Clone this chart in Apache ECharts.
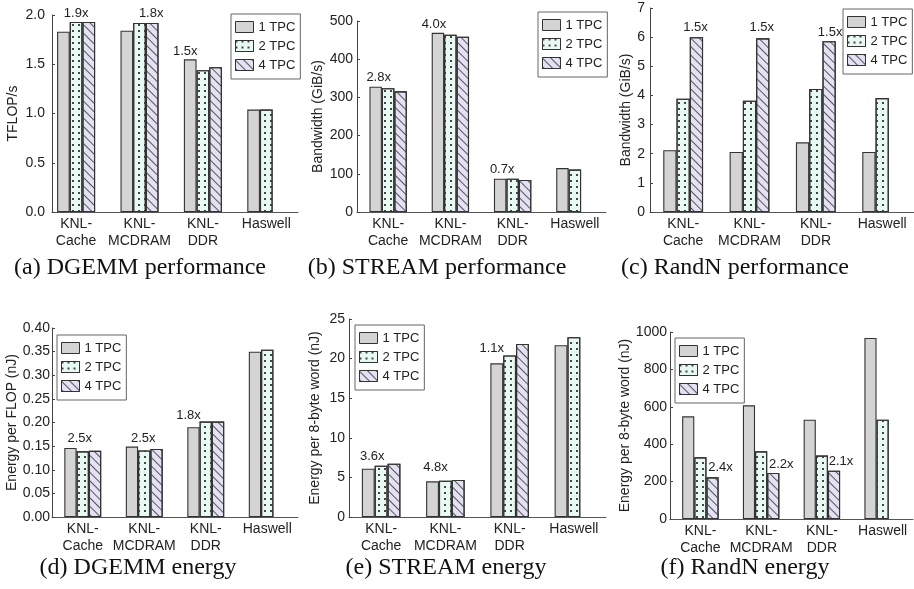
<!DOCTYPE html>
<html><head><meta charset="utf-8">
<script src="https://cdn.jsdelivr.net/npm/echarts@6/dist/echarts.min.js"></script>
<style>html,body{margin:0;padding:0;background:#fff}#c{width:914px;height:589px}</style>
</head><body><div id="c"></div>
<script>
const categories = ['KNL-\nCache', 'KNL-\nMCDRAM', 'KNL-\nDDR', 'Haswell'];
const seriesNames = ['1 TPC', '2 TPC', '4 TPC'];

// (a) DGEMM performance (TFLOP/s)
const dgemmPerf1 = [1.83, 1.84, 1.55, 1.04];
const dgemmPerf2 = [1.93, 1.92, 1.44, 1.04];
const dgemmPerf4 = [1.93, 1.92, 1.47, null];
const dgemmPerfRatio = ['1.9x', '1.8x', '1.5x', null];
// (b) STREAM performance (GiB/s)
const streamPerf1 = [328, 469, 87, 115];
const streamPerf2 = [324, 464, 87, 111];
const streamPerf4 = [316, 459, 84, null];
const streamPerfRatio = ['2.8x', '4.0x', '0.7x', null];
// (c) RandN performance (GiB/s)
const randnPerf1 = [2.12, 2.06, 2.39, 2.06];
const randnPerf2 = [3.89, 3.82, 4.22, 3.91];
const randnPerf4 = [6.0, 5.96, 5.86, null];
const randnPerfRatio = ['1.5x', '1.5x', '1.5x', null];
// (d) DGEMM energy (nJ per FLOP)
const dgemmEnergy1 = [0.146, 0.149, 0.190, 0.350];
const dgemmEnergy2 = [0.139, 0.141, 0.202, 0.354];
const dgemmEnergy4 = [0.140, 0.144, 0.202, null];
const dgemmEnergyRatio = ['2.5x', '2.5x', '1.8x', null];
// (e) STREAM energy (nJ per 8-byte word)
const streamEnergy1 = [6.1, 4.5, 19.4, 21.7];
const streamEnergy2 = [6.48, 4.59, 20.4, 22.7];
const streamEnergy4 = [6.73, 4.67, 21.85, null];
const streamEnergyRatio = ['3.6x', '4.8x', '1.1x', null];
// (f) RandN energy (nJ per 8-byte word)
const randnEnergy1 = [549, 608, 531, 968];
const randnEnergy2 = [330, 362, 339, 531];
const randnEnergy4 = [223, 246, 258, null];
const randnEnergyRatio = ['2.4x', '2.2x', '2.1x', null];

const captions = ['(a) DGEMM performance', '(b) STREAM performance', '(c) RandN performance',
                  '(d) DGEMM energy', '(e) STREAM energy', '(f) RandN energy'];
const yNames = ['TFLOP/s', 'Bandwidth (GiB/s)', 'Bandwidth (GiB/s)',
                'Energy per FLOP (nJ)', 'Energy per 8-byte word (nJ)', 'Energy per 8-byte word (nJ)'];
const yMax = [2, 500, 7, 0.4, 25, 1000];
const yInterval = [0.5, 100, 1, 0.05, 5, 200];
const yDecimals = [1, 0, 0, 2, 0, 0];

const values = [
  [dgemmPerf1, dgemmPerf2, dgemmPerf4],
  [streamPerf1, streamPerf2, streamPerf4],
  [randnPerf1, randnPerf2, randnPerf4],
  [dgemmEnergy1, dgemmEnergy2, dgemmEnergy4],
  [streamEnergy1, streamEnergy2, streamEnergy4],
  [randnEnergy1, randnEnergy2, randnEnergy4]
];
const ratios = [dgemmPerfRatio, streamPerfRatio, randnPerfRatio, dgemmEnergyRatio, streamEnergyRatio, randnEnergyRatio];

// ---- layout / styling (not data) ----
const layout = [
  {grid: {left: 52, top: 15, width: 246, height: 197}, xmin: 0.62, xmax: 4.5, nameGap: 32, labMargin: 7,
   legend: {left: 231, top: 14}, cap: [140, 256],
   anchor: [1, 2, 0], off: [[0, 0], [-1, 0], [-5, 0]], dist: [2, 3, 1]},
  {grid: {left: 357, top: 21, width: 249, height: 191}, xmin: 0.5, xmax: 4.5, nameGap: 32, labMargin: 4,
   legend: {left: 538, top: 12}, cap: [437, 256],
   anchor: [0, 0, 0], off: [[3, 0], [-4, 0], [2, 0]], dist: [2.5, 1.5, 2.5]},
  {grid: {left: 650, top: 8, width: 264, height: 204}, xmin: 0.5, xmax: 4.48, nameGap: 15, labMargin: 5,
   legend: {left: 843, top: 9}, cap: [735, 256],
   anchor: [2, 2, 2], off: [[-1, 0], [-1, 0], [1, 0]], dist: [3.5, 4.5, 2.7]},
  {grid: {left: 52, top: 328, width: 246, height: 189}, xmin: 0.5, xmax: 4.5, nameGap: 32, labMargin: 2,
   legend: {left: 57, top: 335}, cap: [138, 556],
   anchor: [1, 1, 0], off: [[-3, 0], [-1, 0], [-5, 0]], dist: [6.5, 5.5, 5.5]},
  {grid: {left: 349, top: 319, width: 257, height: 198}, xmin: 0.5, xmax: 4.5, nameGap: 27, labMargin: 4,
   legend: {left: 355, top: 325}, cap: [446, 556],
   anchor: [0, 0, 0], off: [[4, 0], [3, 0], [-5, 0]], dist: [5.5, 7, 8.5]},
  {grid: {left: 670, top: 332, width: 243, height: 187}, xmin: 0.5, xmax: 4.5, nameGap: 35, labMargin: 3,
   legend: {left: 675, top: 338}, cap: [745, 556],
   anchor: [2, 2, 2], off: [[8, 0], [8, 0], [7, 0]], dist: [3, 2.5, 3.3]}
];

const SANS = 'Liberation Sans, Arial, sans-serif';
const SERIF = 'Liberation Serif, Times New Roman, serif';
const seriesStyles = [
  {color: '#d4d4d4', borderColor: '#333', borderWidth: 1.1},
  {color: '#e8f8f3', borderColor: '#333', borderWidth: 1.1,
   decal: {symbol: 'rect', symbolSize: 1, color: '#444', dashArrayX: [[1.3, 3.5]], dashArrayY: [1.3, 3.3], rotation: 0}},
  {color: '#e3e1f3', borderColor: '#333', borderWidth: 1.1,
   decal: {symbol: 'rect', symbolSize: 1, color: '#555', dashArrayX: [[1, 0]], dashArrayY: [1, 5], rotation: Math.PI / 4}}
];

const option = {
  animation: false,
  backgroundColor: '#fff',
  textStyle: {fontFamily: SANS},
  title: [], grid: [], xAxis: [], yAxis: [], legend: [], series: []
};

layout.forEach((L, p) => {
  option.title.push({
    text: captions[p], left: L.cap[0], top: L.cap[1], textAlign: 'center', padding: 0,
    textStyle: {fontFamily: SERIF, fontSize: 24, fontWeight: 'normal', color: '#111'}
  });
  option.grid.push(Object.assign({containLabel: false}, L.grid));
  option.xAxis.push({
    type: 'value', gridIndex: p, min: L.xmin, max: L.xmax,
    axisLine: {show: true, lineStyle: {color: '#555', width: 1}},
    axisTick: {show: false}, splitLine: {show: false},
    axisLabel: {
      customValues: [1, 2, 3, 4],
      formatter: v => categories[Math.round(v) - 1] || '',
      fontSize: 14, lineHeight: 17, color: '#222', margin: 4, fontFamily: SANS
    }
  });
  option.yAxis.push({
    type: 'value', gridIndex: p, min: 0, max: yMax[p], interval: yInterval[p],
    name: yNames[p], nameLocation: 'middle', nameGap: L.nameGap,
    nameTextStyle: {fontSize: 14, color: '#222', fontFamily: SANS},
    axisLine: {show: true, lineStyle: {color: '#444', width: 1}},
    axisTick: {show: true, inside: true, length: 3, lineStyle: {color: '#444'}},
    splitLine: {show: false},
    axisLabel: {fontSize: 14, color: '#222', margin: L.labMargin, fontFamily: SANS,
      formatter: v => v.toFixed(yDecimals[p])}
  });
  option.legend.push({
    data: seriesNames, orient: 'vertical', left: L.legend.left, top: L.legend.top,
    icon: 'rect', itemWidth: 18, itemHeight: 11, itemGap: 5, padding: [6, 5, 7, 4],
    itemStyle: {borderWidth: 1},
    borderColor: '#666', borderWidth: 1, backgroundColor: '#fff', selectedMode: false,
    textStyle: {fontSize: 13, color: '#222', lineHeight: 14, fontFamily: SANS}
  });
  values[p].forEach((arr, s) => {
    const data = [];
    arr.forEach((v, i) => {
      if (v === null) return;
      const item = {value: [i + 1, v]};
      const r = ratios[p][i];
      if (r && L.anchor[i] === s) {
        item.label = {show: true, position: 'top', formatter: r, distance: L.dist[i], offset: L.off[i],
          fontSize: 13, color: '#222', fontFamily: SANS};
      }
      data.push(item);
    });
    option.series.push({
      type: 'bar', name: seriesNames[s], xAxisIndex: p, yAxisIndex: p,
      barWidth: '20%', barGap: '0%', data: data,
      itemStyle: seriesStyles[s], emphasis: {disabled: true}
    });
  });
});

const chart = echarts.init(document.getElementById('c'), null, {renderer: 'canvas'});
chart.setOption(option);
</script></body></html>
